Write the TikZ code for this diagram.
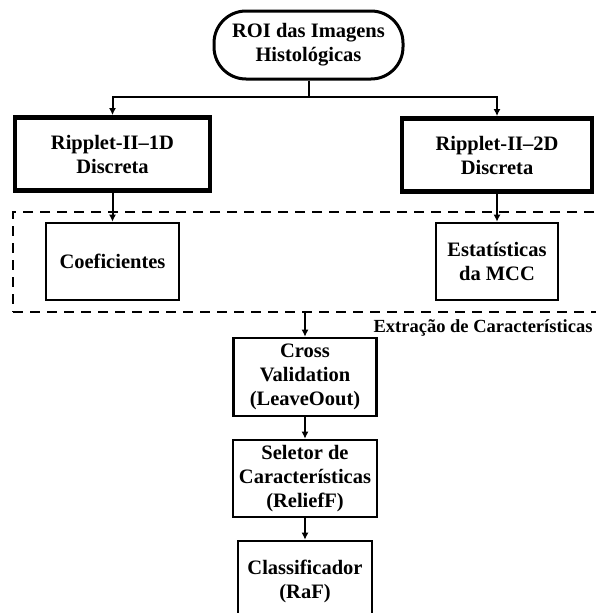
\documentclass[tikz,border=0pt]{standalone}
\usepackage{fontspec}
\setmainfont{Liberation Serif}
\usepackage[]{tikz}
\usetikzlibrary{positioning,arrows.meta}
\tikzset{caixa/.style={draw,line width=2.6pt,align=center,inner sep=0pt},
  grossa/.style={caixa,line width=4.8pt},
  inicio/.style={caixa,line width=3pt,rounded corners=32pt},
  tracejada/.style={draw,line width=2.6pt,dash pattern=on 10pt off 7pt,inner sep=0pt},
  seta/.style={-{Latex[length=7pt,width=7pt]},line width=2pt}}

\begin{document}
\begin{tikzpicture}[x=1pt,y=-1pt,font=\fontsize{20.5}{24}\selectfont\bfseries]
    \useasboundingbox (0,0) rectangle (595,613);
    % entrada e transformadas
    \node[inicio,minimum width=189pt,minimum height=68pt] (roi) at (308.5,45) {ROI das Imagens\\Histológicas};
    \node[grossa,minimum width=195pt,minimum height=73pt] (rip1) at (112.5,154) {Ripplet-II--1D\\Discreta};
    \node[grossa,minimum width=190pt,minimum height=73pt] (rip2) at (497,155) {Ripplet-II--2D\\Discreta};
    % extracao de caracteristicas
    \node[tracejada,minimum width=589pt,minimum height=100pt] (extr) at (307.5,262) {};
    \node[caixa,minimum width=133pt,minimum height=77pt] (coef) at (112.5,261.5) {Coeficientes};
    \node[caixa,minimum width=122pt,minimum height=77pt] (mcc) at (497,261.5) {Estatísticas\\da MCC};
    \node[anchor=east,font=\fontsize{18.5}{22}\selectfont\bfseries] (rotulo) at (596,328) {Extração de Características};
    % validacao, selecao e classificacao
    \node[caixa,minimum width=143pt,minimum height=78pt] (cv) at (305,377) {Cross\\Validation\\(LeaveOout)};
    \node[caixa,minimum width=144pt,minimum height=77pt] (sel) at (305,478.5) {Seletor de\\Características\\(ReliefF)};
    \node[caixa,minimum width=134pt,minimum height=80pt] (cla) at (305,581) {Classificador\\(RaF)};
    % ligacoes
    \coordinate (divisao) at (308.5,97);
    \draw[seta] (roi.south) -- (divisao) -| (rip1.north);
    \draw[seta] (roi.south) -- (divisao) -| (rip2.north);
    \draw[seta] (rip1.south) -- (coef.north);
    \draw[seta] (rip2.south) -- (mcc.north);
    \draw[seta] (extr.south -| cv.north) -- (cv.north);
    \draw[seta] (cv.south) -- (sel.north);
    \draw[seta] (sel.south) -- (cla.north);
\end{tikzpicture}
\end{document}
